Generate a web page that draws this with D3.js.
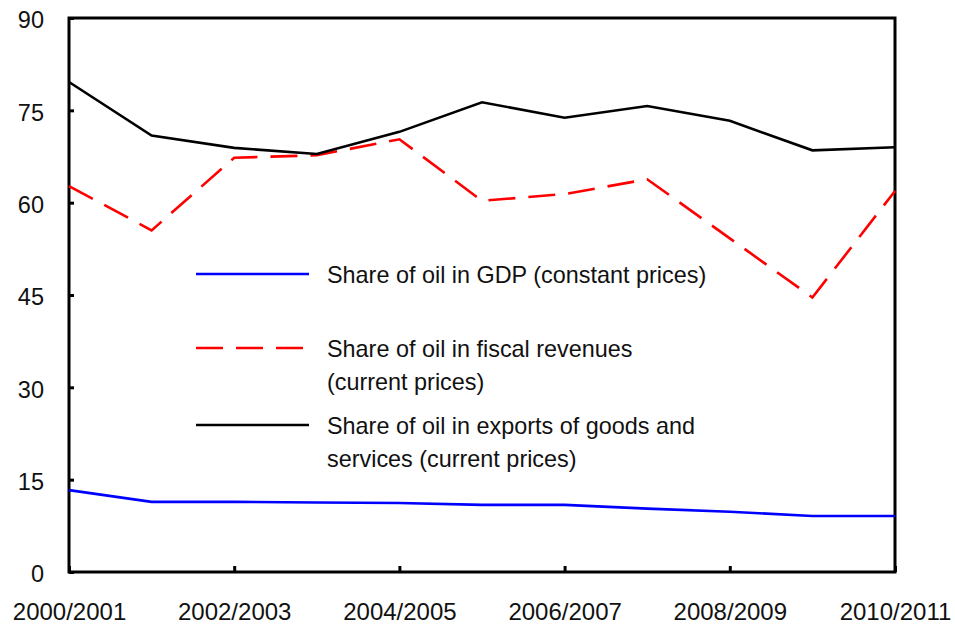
<!DOCTYPE html>
<html>
<head>
<meta charset="utf-8">
<script src="https://cdn.jsdelivr.net/npm/d3@7"></script>
<style>
  body { margin: 0; background: #fff; }
  text { font-family: "Liberation Sans", Arial, sans-serif; fill: #111; }
</style>
</head>
<body>
<div id="wrapper"></div>
<script>
// data
const years = ["2000/2001", "2001/2002", "2002/2003", "2003/2004", "2004/2005", "2005/2006",
  "2006/2007", "2007/2008", "2008/2009", "2009/2010", "2010/2011"];
const gdpShare = [13.3, 11.4, 11.4, 11.3, 11.2, 10.9, 10.9, 10.3, 9.8, 9.1, 9.1];
const fiscalShare = [62.7, 55.5, 67.3, 67.7, 70.3, 60.3, 61.4, 63.8, 54.2, 44.6, 61.9];
const exportShare = [79.6, 70.9, 68.9, 67.9, 71.5, 76.3, 73.8, 75.7, 73.3, 68.5, 69.0];
const yTicks = [0, 15, 30, 45, 60, 75, 90];
const xTickLabels = ["2000/2001", "2002/2003", "2004/2005", "2006/2007", "2008/2009", "2010/2011"];

const width = 955, height = 626;
const plotLeft = 69, plotRight = 895, plotTop = 18, plotBottom = 572;

const svg = d3.select("#wrapper").append("svg")
  .attr("width", width)
  .attr("height", height);

const x = d3.scalePoint().domain(years).range([plotLeft, plotRight]);
const y = d3.scaleLinear().domain([0, 90]).range([plotBottom, plotTop]);

// y axis labels + inward ticks
svg.append("g")
  .attr("transform", `translate(${plotLeft},0)`)
  .call(d3.axisLeft(y).tickValues(yTicks).tickSize(-5).tickPadding(25))
  .call(g => g.select(".domain").remove())
  .call(g => g.selectAll(".tick line").attr("stroke", "#000").attr("stroke-width", 3))
  .call(g => g.selectAll(".tick text")
    .attr("font-size", 23.5).attr("fill", "#111").attr("dy", "0.42em")
    .style("font-family", "'Liberation Sans', Arial, sans-serif"));

// x axis labels + inward ticks
svg.append("g")
  .attr("transform", `translate(0,${plotBottom})`)
  .call(d3.axisBottom(x).tickValues(xTickLabels).tickSize(-6).tickPadding(31))
  .call(g => g.select(".domain").remove())
  .call(g => g.selectAll(".tick line").attr("stroke", "#000").attr("stroke-width", 3))
  .call(g => g.selectAll(".tick text")
    .attr("font-size", 24).attr("fill", "#111")
    .style("font-family", "'Liberation Sans', Arial, sans-serif"));

// frame
svg.append("rect")
  .attr("x", plotLeft).attr("y", plotTop)
  .attr("width", plotRight - plotLeft).attr("height", plotBottom - plotTop)
  .attr("fill", "none").attr("stroke", "#000").attr("stroke-width", 3);

const line = d3.line()
  .x((d, i) => x(years[i]))
  .y(d => y(d));

const series = [
  { values: gdpShare, color: "#0000ff", dash: null },
  { values: fiscalShare, color: "#ff0000", dash: "27,13" },
  { values: exportShare, color: "#000000", dash: null }
];

svg.selectAll(".series")
  .data(series)
  .enter()
  .append("path")
  .attr("class", "series")
  .attr("d", d => line(d.values))
  .attr("fill", "none")
  .attr("stroke", d => d.color)
  .attr("stroke-width", 2.6)
  .attr("stroke-dasharray", d => d.dash);

// legend
const legend = [
  { color: "#0000ff", dash: null, y: 274, lines: ["Share of oil in GDP (constant prices)"] },
  { color: "#ff0000", dash: "27,13", y: 348, lines: ["Share of oil in fiscal revenues", "(current prices)"] },
  { color: "#000000", dash: null, y: 425, lines: ["Share of oil in exports of goods and", "services (current prices)"] }
];

const items = svg.selectAll(".legend")
  .data(legend)
  .enter()
  .append("g")
  .attr("class", "legend");

items.append("line")
  .attr("x1", 196).attr("x2", 309)
  .attr("y1", d => d.y).attr("y2", d => d.y)
  .attr("stroke", d => d.color)
  .attr("stroke-width", 2.6)
  .attr("stroke-dasharray", d => d.dash);

items.each(function(d) {
  const t = d3.select(this).append("text")
    .attr("x", 327)
    .attr("y", d.y + 9)
    .attr("font-size", 23.4);
  d.lines.forEach((s, i) => {
    t.append("tspan").attr("x", 327).attr("dy", i === 0 ? 0 : 33).text(s);
  });
});
</script>
</body>
</html>
